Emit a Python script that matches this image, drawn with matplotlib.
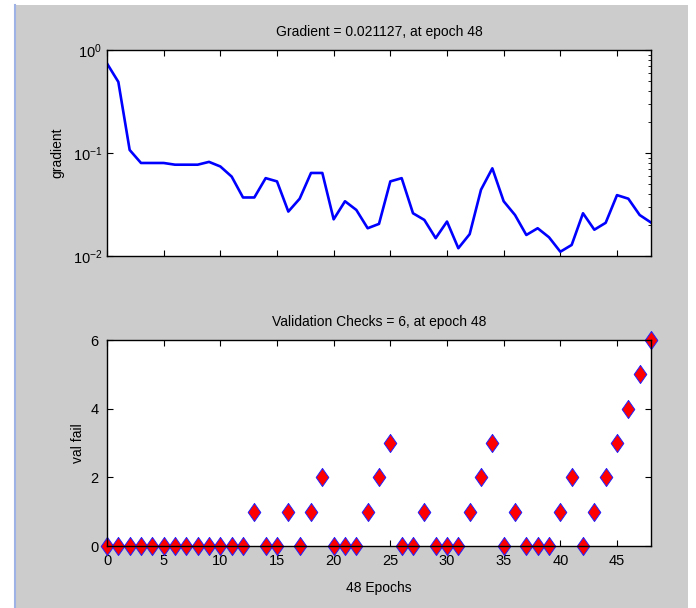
import matplotlib.pyplot as plt
from matplotlib.patches import Rectangle
from matplotlib.lines import Line2D

epochs = list(range(49))
gradient = [0.74, 0.49, 0.107, 0.080, 0.080, 0.080, 0.077, 0.077, 0.077, 0.082,
            0.074, 0.059, 0.037, 0.037, 0.057, 0.053, 0.027, 0.036, 0.064, 0.064,
            0.0227, 0.034, 0.028, 0.0186, 0.0205, 0.053, 0.057, 0.026, 0.0224, 0.0149,
            0.0216, 0.0119, 0.0163, 0.044, 0.071, 0.034, 0.025, 0.016, 0.0186, 0.0152,
            0.011, 0.0128, 0.026, 0.018, 0.021, 0.039, 0.036, 0.025, 0.021127]
val_fail = [0, 0, 0, 0, 0, 0, 0, 0, 0, 0, 0, 0, 0, 1, 0, 0, 1, 0, 1, 2,
            0, 0, 0, 1, 2, 3, 0, 0, 1, 0, 0, 0, 1, 2, 3, 0, 1, 0, 0, 0,
            1, 2, 0, 1, 2, 3, 4, 5, 6]
xticks = [0, 5, 10, 15, 20, 25, 30, 35, 40, 45]

plt.rcParams['font.family'] = ['Liberation Sans', 'DejaVu Sans']
plt.rcParams['mathtext.fontset'] = 'custom'
plt.rcParams['mathtext.rm'] = 'Liberation Sans'

fig = plt.figure(figsize=(6.96, 6.08), dpi=100, facecolor='white')
# grey window background and the thin blue edge on the left
fig.patches.append(Rectangle((15 / 696, 0), 673 / 696, 603 / 608, transform=fig.transFigure,
                             facecolor='#cccccc', edgecolor='none', zorder=-2))
fig.lines.append(Line2D([14.5 / 696, 14.5 / 696], [0, 603 / 608], transform=fig.transFigure,
                        color='#9fb2e6', linewidth=1.5))

ax1 = fig.add_axes([107 / 696, 352 / 608, 544 / 696, 206 / 608])
ax2 = fig.add_axes([107 / 696, 62 / 608, 544 / 696, 206 / 608])

ax1.semilogy(epochs, gradient, color='#0000ff', linewidth=1.9)
ax1.set_xlim(0, 48)
ax1.set_ylim(1e-2, 1)
ax1.set_yticks([1e-2, 1e-1, 1])
ax1.set_xticks(xticks)
ax1.set_xticklabels([])
ax1.set_ylabel('gradient', fontsize=10, labelpad=6)
ax1.set_title('Gradient = 0.021127, at epoch 48', fontsize=10, pad=10)
ax1.tick_params(which='major', direction='in', length=4, top=True, right=True, labelsize=10.5)
ax1.tick_params(which='minor', direction='in', length=2, left=False, right=True)

diamond = [(0, 1), (0.7, 0), (0, -1), (-0.7, 0), (0, 1)]
ax2.plot(epochs, val_fail, linestyle='none', marker=diamond, markersize=13,
         markerfacecolor='#ff0000', markeredgecolor='#2020ff', markeredgewidth=0.7, clip_on=False)
ax2.set_xlim(0, 48)
ax2.set_ylim(0, 6)
ax2.set_yticks([0, 2, 4, 6])
ax2.set_xticks(xticks)
ax2.set_ylabel('val fail', fontsize=10)
ax2.set_xlabel('48 Epochs', fontsize=10, labelpad=9)
ax2.set_title('Validation Checks = 6, at epoch 48', fontsize=10, pad=10)
ax2.tick_params(direction='in', length=4, top=True, right=True, labelsize=10.5, pad=6)

for ax in (ax1, ax2):
    for s in ax.spines.values():
        s.set_linewidth(1.0)

fig.savefig('out.png', dpi=100, facecolor=fig.get_facecolor())
